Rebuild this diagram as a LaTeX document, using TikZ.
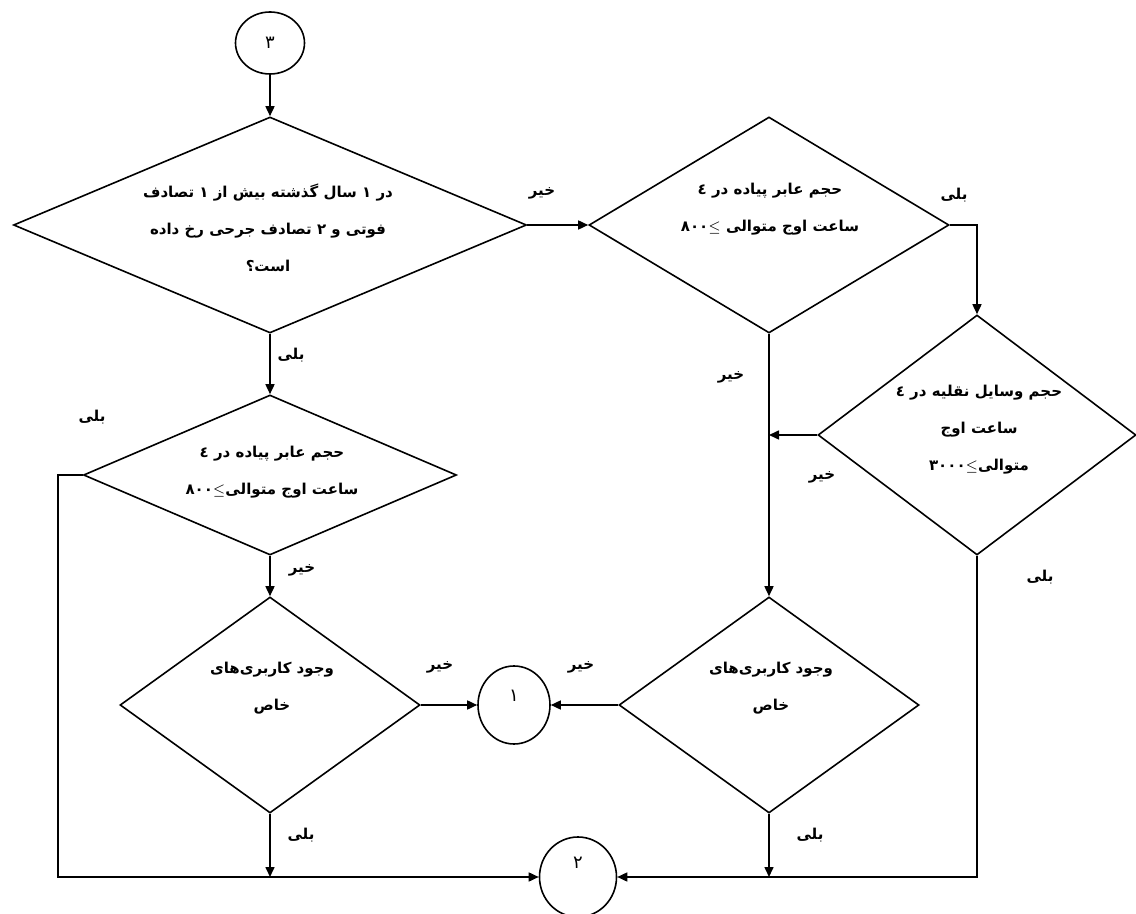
\documentclass[tikz,border=0pt]{standalone}
\usepackage{fontspec}
\usetikzlibrary{shapes.geometric,arrows.meta}
\TeXXeTstate=1
\newfontfamily\arabicfont[Script=Arabic]{DejaVu Sans}
\newcommand{\fatext}[1]{\beginR #1\endR}
\tikzset{
	decision/.style={draw,diamond,inner sep=0pt,line width=0.8pt},
	joint/.style={draw,ellipse,inner sep=0pt,line width=0.8pt,font=\arabicfont\fontsize{9}{11}\selectfont},
	qtext/.style={align=center,font=\arabicfont\bfseries\fontsize{7.5}{18.5}\selectfont},
	ans/.style={font=\arabicfont\bfseries\fontsize{7.5}{9}\selectfont},
	flow/.style={line width=0.8pt,-{Triangle[length=5pt,width=4.5pt]}}
}
\begin{document}
\begin{tikzpicture}[x=0.5pt,y=-0.5pt]
	\useasboundingbox (0,0) rectangle (1136,914);
	% connectors
	\node[joint,minimum width=34.5pt,minimum height=31pt] (c3) at (270,43) {\fatext{٣}};
	\node[joint,minimum width=36pt,minimum height=39pt,text depth=9pt] (c1) at (514,705) {\fatext{١}};
	\node[joint,minimum width=38.5pt,minimum height=40pt,text depth=14pt] (c2) at (578,877) {\fatext{٢}};
	% decisions
	\node[decision,minimum width=256.5pt,minimum height=108pt] (d1) at (270,225) {};
	\node[decision,minimum width=180pt,minimum height=108pt] (d2) at (769,225) {};
	\node[decision,minimum width=159pt,minimum height=120pt] (d3) at (977,435) {};
	\node[decision,minimum width=186.5pt,minimum height=80pt] (d4) at (270,475) {};
	\node[decision,minimum width=150pt,minimum height=108pt] (d5) at (769,705) {};
	\node[decision,minimum width=150pt,minimum height=108pt] (d6) at (270,705) {};
	% questions
	\node[qtext] (q1) at (268,228) {\fatext{در ١ سال گذشته بیش از ١ تصادف}\\
		\fatext{فوتی و ٢ تصادف جرحی رخ داده}\\ \fatext{است؟}};
	\node[qtext] (q2) at (770,209) {\fatext{حجم عابر پیاده در ٤}\\
		\fatext{ساعت اوج متوالی \beginL٨٠٠$\leq$\endL}};
	\node[qtext] (q3) at (979,430) {\fatext{حجم وسایل نقلیه در ٤}\\
		\fatext{ساعت اوج}\\ \fatext{متوالی\beginL٣٠٠٠$\leq$\endL}};
	\node[qtext] (q4) at (272,472) {\fatext{حجم عابر پیاده در ٤}\\
		\fatext{ساعت اوج متوالی\beginL٨٠٠$\leq$\endL}};
	\node[qtext] (q5) at (771,688) {\fatext{وجود کاربری‌های}\\ \fatext{خاص}};
	\node[qtext] (q6) at (272,688) {\fatext{وجود کاربری‌های}\\ \fatext{خاص}};
	% arrows
	\coordinate (lcorner) at (58,475);
	\draw[flow] (c3) -- (d1.north);
	\draw[flow] (d1.east) -- (d2.west);
	\draw[flow] (d2.east) -| (d3.north);
	\draw[flow] (d3.west) -- (d3.west -| d2.south);
	\draw[flow] (d2.south) -- (d5.north);
	\draw[flow] (d1.south) -- (d4.north);
	\draw[flow] (d4.south) -- (d6.north);
	\draw[flow] (d6.east) -- (c1);
	\draw[flow] (d5.west) -- (c1);
	\draw[flow] (d6.south) -- (d6.south |- c2.west);
	\draw[flow] (d5.south) -- (d5.south |- c2.east);
	\draw[flow] (d4.west) -- (lcorner) |- (c2.west);
	\draw[flow] (d3.south) |- (c2.east);
	% answers
	\foreach \x/\y/\n [count=\i] in {542/193/خیر,954/195/بلی,731/377/خیر,822/477/خیر,
		1040/577/بلی,291/355/بلی,92/417/بلی,302/570/خیر,440/667/خیر,581/667/خیر,
		301/835/بلی,810/835/بلی}
		\node[ans] (a\i) at (\x,\y) {\fatext{\n}};
\end{tikzpicture}
\end{document}
